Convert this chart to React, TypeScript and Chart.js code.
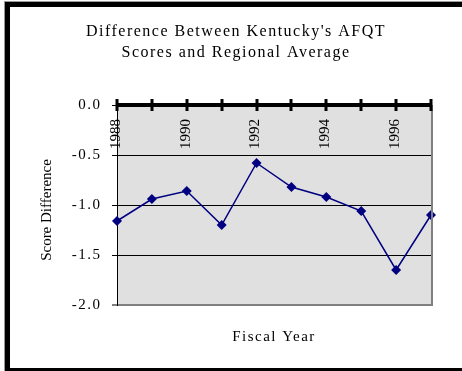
import { useEffect, useRef } from 'react';
import { Chart, registerables } from 'chart.js';

Chart.register(...registerables);

// Fiscal years on the category axis and the Kentucky-minus-region score gap
const fiscalYears = ['1988', '1989', '1990', '1991', '1992', '1993', '1994', '1995', '1996', '1997'];
const scoreDifference = [-1.16, -0.94, -0.86, -1.2, -0.58, -0.82, -0.92, -1.06, -1.65, -1.1];
const labeledYears = ['1988', '1990', '1992', '1994', '1996'];
const chartTitle = ["Difference Between Kentucky's AFQT", 'Scores and Regional Average'];
const yAxisTitle = 'Score Difference';
const xAxisTitle = 'Fiscal Year';
const yMin = -2;
const yMax = 0;
const yStep = 0.5;

const SERIF = "'Liberation Serif', 'Times New Roman', Times, serif";
const SPACING = '1.5px';

const frameworkPlugin = {
  id: 'excelFrame',
  beforeLayout(chart: any) {
    chart.ctx.letterSpacing = SPACING;
  },
  beforeDraw(chart: any) {
    const { ctx, chartArea: a } = chart;
    ctx.letterSpacing = SPACING;
    ctx.save();
    ctx.fillStyle = '#e0e0e0';
    ctx.fillRect(a.left, a.top, a.right - a.left, a.bottom - a.top);
    ctx.restore();
  },
  afterDraw(chart: any) {
    const { ctx, chartArea: a } = chart;
    const x = chart.scales.x;
    ctx.save();
    ctx.letterSpacing = '0px';

    // right edge of the plot area
    ctx.strokeStyle = '#808080';
    ctx.lineWidth = 2;
    ctx.beginPath();
    ctx.moveTo(a.right + 1, a.top);
    ctx.lineTo(a.right + 1, a.bottom + 1);
    ctx.stroke();

    // heavy category axis along the zero line, tick marks crossing it
    ctx.strokeStyle = '#000';
    ctx.lineWidth = 4;
    ctx.beginPath();
    ctx.moveTo(a.left, a.top);
    ctx.lineTo(a.right + 1, a.top);
    ctx.stroke();
    ctx.lineWidth = 3;
    fiscalYears.forEach((_, i) => {
      const px = Math.round(x.getPixelForValue(i));
      ctx.beginPath();
      ctx.moveTo(px, a.top - 6);
      ctx.lineTo(px, a.top + 6);
      ctx.stroke();
    });

    // rotated year labels hanging below the axis
    ctx.fillStyle = '#000';
    ctx.font = `15px ${SERIF}`;
    ctx.textAlign = 'left';
    ctx.textBaseline = 'middle';
    labeledYears.forEach((yr) => {
      const px = x.getPixelForValue(fiscalYears.indexOf(yr));
      ctx.save();
      ctx.translate(px - 1, a.top + 44);
      ctx.rotate(-Math.PI / 2);
      ctx.fillText(yr, 0, 0);
      ctx.restore();
    });

    // value axis title
    ctx.save();
    ctx.font = `15px ${SERIF}`;
    ctx.textAlign = 'center';
    ctx.translate(37, (a.top + a.bottom) / 2 + 5);
    ctx.rotate(-Math.PI / 2);
    ctx.fillText(yAxisTitle, 0, 0);
    ctx.restore();

    ctx.restore();
  },
};

export default function App() {
  const canvasRef = useRef<HTMLCanvasElement>(null);

  useEffect(() => {
    if (!canvasRef.current) return;
    const chart = new Chart(canvasRef.current, {
      type: 'line',
      data: {
        labels: fiscalYears,
        datasets: [
          {
            data: scoreDifference,
            borderColor: '#000080',
            backgroundColor: '#000080',
            borderWidth: 1.5,
            pointStyle: 'rectRot',
            pointRadius: 5,
            pointBorderWidth: 0,
            tension: 0,
            clip: false as any,
            xAxisID: 'x',
            yAxisID: 'y',
          },
        ],
      },
      options: {
        responsive: false,
        animation: false,
        events: [],
        layout: { padding: 0 },
        plugins: {
          legend: { display: false },
          tooltip: { enabled: false },
          title: {
            display: true,
            text: chartTitle,
            color: '#000',
            font: { family: SERIF, size: 16, weight: 'normal', lineHeight: 1.3125 },
            padding: { top: 14.5, bottom: 0 },
          },
        },
        scales: {
          x: {
            type: 'category',
            position: 'top',
            offset: false,
            grid: { display: false },
            border: { display: false },
            ticks: { display: false },
            afterFit(scale: any) {
              scale.height = 41.5;
            },
          },
          x2: {
            type: 'category',
            position: 'bottom',
            offset: false,
            grid: { display: false },
            border: { display: false },
            ticks: { display: false },
            title: {
              display: true,
              text: xAxisTitle,
              color: '#000',
              font: { family: SERIF, size: 15, lineHeight: 1.2 },
              padding: { top: 0, bottom: 22 },
            },
            afterFit(scale: any) {
              scale.height = 63;
            },
          },
          y: {
            min: yMin,
            max: yMax,
            position: 'left',
            grid: {
              color: (c: any) =>
                c.tick && c.tick.value === yMax
                  ? 'rgba(0,0,0,0)'
                  : c.tick && c.tick.value === yMin
                  ? '#808080'
                  : '#000',
              lineWidth: (c: any) => (c.tick && c.tick.value === yMin ? 2 : 1),
              tickColor: '#000',
              tickWidth: 1,
              tickLength: 5,
            },
            border: { color: '#000', width: 1 },
            ticks: {
              stepSize: yStep,
              color: '#000',
              padding: 10.5,
              font: { family: SERIF, size: 15 },
              callback: (v: any) => Number(v).toFixed(1),
            },
            afterFit(scale: any) {
              scale.width = 107;
            },
          },
          // empty gutter to the right of the plot area
          yRight: {
            type: 'linear',
            position: 'right',
            min: yMin,
            max: yMax,
            grid: { display: false },
            border: { display: false },
            ticks: { display: false },
            afterFit(scale: any) {
              scale.width = 31;
            },
          },
        },
      } as any,
      plugins: [frameworkPlugin],
    });
    return () => chart.destroy();
  }, []);

  return (
    <div
      style={{
        position: 'fixed',
        left: 0,
        top: 0,
        width: 462,
        height: 371,
        overflow: 'hidden',
        background: '#fff',
      }}
    >
      <div
        style={{
          position: 'absolute',
          left: 5,
          top: 2,
          width: 500,
          height: 371,
          boxSizing: 'border-box',
          border: '5px solid #000',
          boxShadow: '-1px -1px 0 #9a9a9a',
        }}
      />
      <canvas
        ref={canvasRef}
        width={452}
        height={361}
        style={{ position: 'absolute', left: 10, top: 7, width: 452, height: 361 }}
      />
    </div>
  );
}
